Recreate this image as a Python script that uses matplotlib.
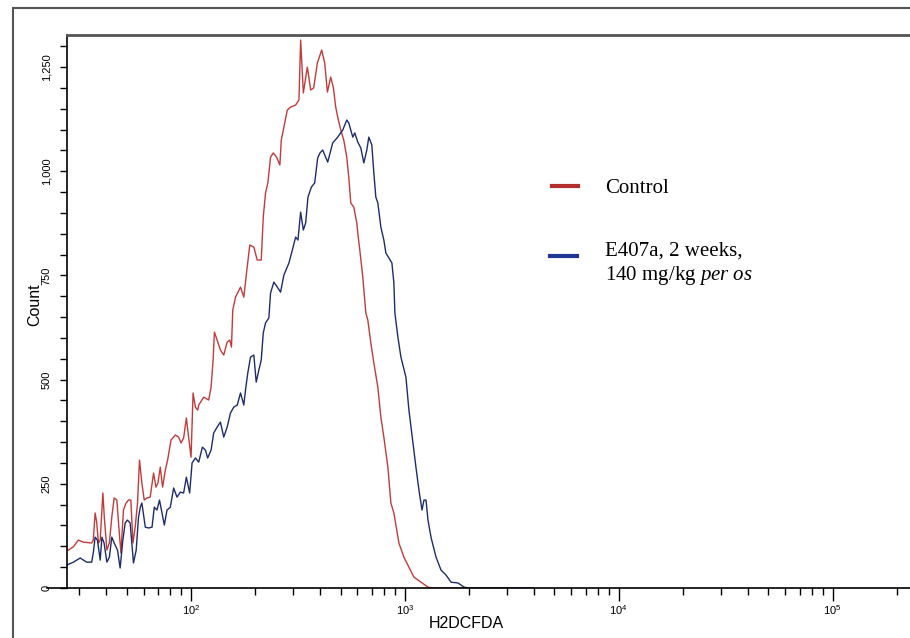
import matplotlib
matplotlib.use('Agg')
import matplotlib.pyplot as plt
import matplotlib.ticker as mticker
from matplotlib.lines import Line2D
from matplotlib.patches import Rectangle

plt.rcParams['font.family'] = ['Liberation Sans', 'DejaVu Sans']
plt.rcParams['mathtext.fontset'] = 'custom'
plt.rcParams['mathtext.rm'] = 'Liberation Serif'
plt.rcParams['mathtext.it'] = 'Liberation Serif:italic'
plt.rcParams['mathtext.sf'] = 'Liberation Sans'

# H2DCFDA intensity (channel) and event counts
control_x = [26.7, 28.2, 29.7, 31.4, 34.3, 34.9, 35.6, 36.2, 36.9, 37.6, 38.7, 39.3, 40.4, 41.5,
             42.6, 43.7, 45.0, 45.8, 47.0, 48.3, 49.7, 51.0, 52.3, 53.5, 54.8, 56.2, 57.4, 58.9,
             60.4, 62.2, 64.4, 66.8, 68.5, 70.0, 71.8, 73.6, 75.8, 77.7, 80.6, 84.4, 87.5, 89.8,
             92.3, 95.1, 97.4, 100, 102.2, 104.8, 107.4, 108.6, 114.6, 120.9, 124.1, 126.8, 128.6,
             132.4, 137.2, 142.2, 147.5, 151.7, 154.5, 156.7, 161.4, 170.3, 176.5, 181.7, 188.2,
             196.6, 203.9, 212.9, 217.6, 223.0, 228.6, 235.4, 242.3, 251.1, 260.2, 264.2, 271.7,
             281.9, 292.0, 308.3, 319.5, 325.4, 335.0, 349.8, 362.5, 374.4, 389.7, 408.2, 421.6,
             434.1, 449.8, 463.1, 474.7, 485.1, 501.2, 517.6, 534.7, 546.4, 558.3, 576.7, 595.7,
             602.1, 615.2, 635.5, 656.5, 670.7, 692.8, 715.7, 747.1, 771.8, 797.1, 832.3, 859.8,
             888.0, 937.4, 989.2, 1044, 1102, 1189, 1282, 1353, 3000]
control_y = [91, 99, 115, 110, 108, 115, 180, 158, 108, 115, 228, 170, 91, 108,
             170, 216, 211, 156, 84, 187, 204, 211, 211, 108, 146, 204, 307, 252,
             211, 216, 218, 276, 242, 252, 290, 242, 283, 307, 355, 367, 362, 348,
             360, 408, 362, 314, 468, 434, 427, 439, 458, 451, 482, 547, 614,
             595, 571, 559, 590, 595, 578, 667, 698, 722, 698, 756, 823,
             818, 787, 787, 890, 948, 972, 1034, 1044, 1034, 1015, 1075, 1106,
             1147, 1154, 1159, 1171, 1315, 1188, 1250, 1195, 1200, 1260, 1291, 1260,
             1190, 1226, 1200, 1154, 1130, 1099, 1075, 1034, 986, 924, 914, 876,
             852, 811, 746, 660, 643, 588, 540, 482, 410, 362, 290, 204,
             180, 108, 74, 50, 26, 14, 2, 0, 0]

treated_x = [26.2, 28.2, 30.3, 32.5, 34.3, 34.9, 35.6, 36.5, 37.6, 38.3, 39.2, 40.4, 41.5, 42.6,
             43.7, 45.3, 46.6, 48.0, 49.2, 50.4, 51.9, 53.8, 55.4, 56.8, 57.9, 58.9, 61.1, 63.3,
             65.7, 67.3, 69.3, 71.2, 73.1, 75.0, 77.2, 80.0, 82.9, 86.0, 89.1, 92.3, 95.1, 98.5,
             101.1, 104.8, 108.6, 113.0, 116.7, 119.6, 124.1, 127.6, 132.4, 137.2, 142.2, 147.5,
             152.9, 158.4, 164.4, 170.3, 176.5, 179.7, 184.2, 189.7, 196.6, 201.7, 207.5, 212.9,
             217.6, 223.0, 231.1, 235.4, 243.9, 253.1, 262.2, 271.7, 286.9, 297.6, 308.3, 316.1,
             325.4, 335.0, 343.5, 352.1, 365.3, 378.5, 390.9, 400.8, 412.6, 435.5, 459.6, 485.1,
             512.1, 534.7, 546.4, 570.5, 583.0, 602.1, 621.9, 642.4, 663.6, 678.0, 700.4, 715.7,
             731.1, 747.1, 771.8, 797.1, 814.6, 841.4, 869.2, 888.0, 897.7, 927.3, 957.9, 1011,
             1044, 1090, 1126, 1163, 1202, 1228, 1255, 1282, 1324, 1398, 1475, 1557, 1644, 1772,
             1891, 1995, 4000]
treated_y = [55, 62, 72, 62, 62, 84, 122, 115, 67, 122, 108, 62, 74, 122,
             108, 91, 48, 115, 156, 163, 156, 60, 91, 170, 194, 204, 146, 144,
             146, 194, 187, 211, 180, 151, 187, 194, 240, 218, 230, 228, 266, 228,
             300, 312, 302, 338, 331, 312, 331, 372, 386, 398, 362, 386,
             420, 434, 439, 468, 439, 475, 516, 554, 559, 494, 523, 547,
             612, 636, 648, 708, 734, 722, 710, 751, 780, 811, 842, 835,
             902, 859, 876, 938, 962, 972, 1032, 1044, 1051, 1022, 1068, 1082,
             1099, 1123, 1116, 1082, 1092, 1070, 1056, 1020, 1051, 1082, 1063, 996,
             938, 924, 866, 835, 804, 792, 780, 732, 660, 602, 554, 506,
             427, 348, 290, 235, 187, 211, 211, 163, 122, 74, 43, 31, 14, 12,
             2, 0, 0]

x_major = [1e2, 1e3, 1e4, 1e5]
x_major_labels = [r'$\mathsf{10^{2}}$', r'$\mathsf{10^{3}}$', r'$\mathsf{10^{4}}$', r'$\mathsf{10^{5}}$']
y_major = [0, 250, 500, 750, 1000, 1250]
y_major_labels = ['0', '250', '500', '750', '1,000', '1,250']

W, H = 910, 638
fig = plt.figure(figsize=(W / 100, H / 100), dpi=100)


def fx(px):
    return px / W


def fy(py):
    return 1 - py / H


# outer frame of the exported plot window
fig.add_artist(Rectangle((fx(13), fy(700)), 1.2, fy(8) - fy(700), transform=fig.transFigure,
                         fill=False, ec='#555555', lw=1.5, clip_on=False))

ax = fig.add_axes([fx(67), fy(588), fx(912) - fx(67), fy(35) - fy(588)])
ax.plot(control_x, control_y, color='#c23b3b', lw=1.0)
ax.plot(treated_x, treated_y, color='#1d2d6b', lw=1.0)

ax.set_xscale('log')
ax.set_xlim(26.3, 235000)
ax.set_ylim(0, 1327)

ax.xaxis.set_major_locator(mticker.FixedLocator(x_major))
ax.xaxis.set_major_formatter(mticker.FixedFormatter(x_major_labels))
ax.xaxis.set_minor_locator(mticker.LogLocator(base=10, subs=range(2, 10), numticks=20))
ax.xaxis.set_minor_formatter(mticker.NullFormatter())
ax.yaxis.set_major_locator(mticker.FixedLocator(y_major))
ax.yaxis.set_major_formatter(mticker.FixedFormatter(y_major_labels))
ax.yaxis.set_minor_locator(mticker.MultipleLocator(50))

ax.tick_params(axis='x', which='major', length=9, width=1, direction='out', labelsize=8, pad=2)
ax.tick_params(axis='x', which='minor', length=5, width=1, direction='out')
ax.tick_params(axis='y', which='both', length=5, width=1, direction='out', labelsize=8, pad=6)
for lab in ax.get_yticklabels():
    lab.set_rotation(90)
    lab.set_va('center')

ax.spines['right'].set_visible(False)
ax.spines['top'].set_color('#555555')
ax.spines['top'].set_linewidth(2)
ax.spines['left'].set_linewidth(1.2)
ax.spines['bottom'].set_linewidth(1.2)
# baseline runs a bit past the count axis
ax.plot([-20 / 845, 0], [0, 0], transform=ax.transAxes, color='black', lw=1.2, clip_on=False)

fig.text(fx(466), fy(623), 'H2DCFDA', ha='center', va='center', fontsize=11.5)
fig.text(fx(35), fy(305), 'Count', ha='center', va='center', rotation=90, fontsize=11.5)

# legend drawn by hand like the original figure
fig.add_artist(Line2D([fx(552), fx(578)], [fy(186), fy(186)], transform=fig.transFigure,
                      color='#b32d2d', lw=3))
fig.add_artist(Line2D([fx(550), fx(577)], [fy(256), fy(256)], transform=fig.transFigure,
                      color='#1f3593', lw=3))
serif = ['Liberation Serif', 'DejaVu Serif']
fig.text(fx(605), fy(193), 'Control', family=serif, fontsize=15, va='baseline')
fig.text(fx(605), fy(256), 'E407a, 2 weeks,', family=serif, fontsize=15, va='baseline')
fig.text(fx(605), fy(280), r'140 mg/kg $\mathit{per\ os}$', family=serif, fontsize=15, va='baseline')

fig.savefig('out.png', dpi=100)
